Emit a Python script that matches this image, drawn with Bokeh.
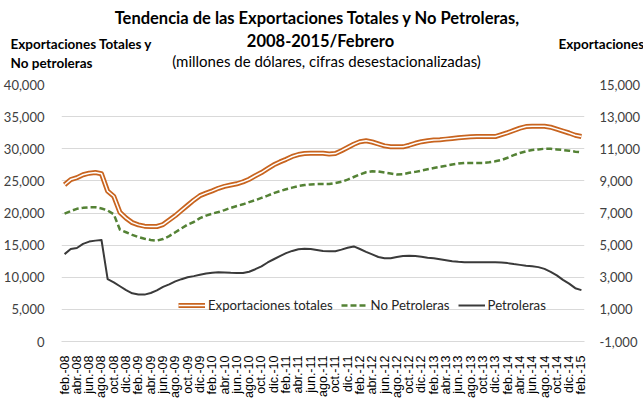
from math import pi
from bokeh.plotting import figure
from bokeh.layouts import column
from bokeh.core.properties import value
from bokeh.models import (Range1d, LinearAxis, FixedTicker, NumeralTickFormatter,
                          Legend, LegendItem)
from bokeh.embed import file_html
from bokeh.resources import INLINE

# ---------------- data (millones de dólares) ----------------
etiquetas_x = ["feb.-08", "abr.-08", "jun.-08", "ago.-08", "oct.-08", "dic.-08",
               "feb.-09", "abr.-09", "jun.-09", "ago.-09", "oct.-09", "dic.-09",
               "feb.-10", "abr.-10", "jun.-10", "ago.-10", "oct.-10", "dic.-10",
               "feb.-11", "abr.-11", "jun.-11", "ago.-11", "oct.-11", "dic.-11",
               "feb.-12", "abr.-12", "jun.-12", "ago.-12", "oct.-12", "dic.-12",
               "feb.-13", "abr.-13", "jun.-13", "ago.-13", "oct.-13", "dic.-13",
               "feb.-14", "abr.-14", "jun.-14", "ago.-14", "oct.-14", "dic.-14",
               "feb.-15"]

totales = [24400, 25200, 25500, 25950, 26200, 26300, 26100, 23400, 22600, 20100,
           19200, 18500, 18150, 17950, 17900, 17900, 18200, 18900, 19600, 20400,
           21200, 22000, 22700, 23100, 23450, 23850, 24150, 24350, 24550, 24850,
           25250, 25800, 26300, 26900, 27500, 27950, 28350, 28800, 29100, 29250,
           29300, 29300, 29300, 29200, 29250, 29700, 30200, 30700, 31100, 31250,
           31050, 30750, 30450, 30300, 30300, 30300, 30550, 30850, 31100, 31250,
           31350, 31400, 31500, 31600, 31700, 31800, 31850, 31900, 31900, 31900,
           31900, 32200, 32500, 32850, 33200, 33450, 33500, 33500, 33500, 33350,
           33050, 32750, 32450, 32100, 31900]

no_petroleras = [19900, 20300, 20650, 20800, 20900, 20900, 20700, 20400, 19800, 17400,
                 17000, 16600, 16250, 16000, 15800, 15700, 15950, 16400, 17000, 17600,
                 18200, 18600, 19200, 19600, 19900, 20150, 20450, 20800, 21100, 21350,
                 21700, 22000, 22350, 22700, 23100, 23400, 23700, 23950, 24200, 24350,
                 24450, 24500, 24500, 24500, 24650, 24850, 25200, 25600, 26000, 26350,
                 26500, 26450, 26300, 26150, 26000, 26050, 26250, 26400, 26600, 26800,
                 27000, 27200, 27350, 27550, 27700, 27800, 27800, 27800, 27800, 27900,
                 28050, 28250, 28600, 29000, 29350, 29600, 29800, 29900, 30000, 30000,
                 29900, 29800, 29700, 29550, 29450]

petroleras = [4440, 4760, 4820, 5080, 5220, 5280, 5320, 2880, 2680, 2440,
              2200, 2000, 1920, 1920, 2020, 2180, 2400, 2560, 2740, 2880,
              3000, 3070, 3160, 3230, 3280, 3310, 3300, 3280, 3270, 3260,
              3340, 3500, 3680, 3920, 4120, 4320, 4500, 4640, 4740, 4780,
              4760, 4700, 4640, 4620, 4620, 4720, 4840, 4920, 4760, 4580,
              4420, 4260, 4180, 4180, 4260, 4320, 4340, 4320, 4280, 4220,
              4180, 4120, 4060, 4000, 3960, 3940, 3940, 3940, 3940, 3940,
              3940, 3920, 3880, 3820, 3770, 3720, 3680, 3630, 3520, 3340,
              3120, 2840, 2600, 2320, 2200]

titulo = ["Tendencia de las Exportaciones Totales y No Petroleras,", "2008-2015/Febrero"]
subtitulo = "(millones de dólares, cifras desestacionalizadas)"
eje_izq = ["Exportaciones Totales y", "No petroleras"]
eje_der = "Exportaciones"

x = list(range(len(totales)))

# ---------------- header (titles) ----------------
HEAD_H = 76
head = figure(width=643, height=HEAD_H, output_backend="svg", toolbar_location=None,
              x_range=Range1d(0, 643), y_range=Range1d(HEAD_H, 0),
              x_axis_location=None, y_axis_location=None,
              min_border=0, min_border_left=0, min_border_right=0,
              min_border_top=0, min_border_bottom=0)
head.frame_align = False
head.grid.visible = False
head.outline_line_color = None
head.background_fill_color = "white"
head.border_fill_color = "white"

head.text(x=[317, 320], y=[17, 40], text=titulo, text_font=value("Lato"),
          text_font_size=value("16.5px"), text_font_style="bold",
          text_align="center", text_baseline="middle", text_color="#000000")
head.text(x=[326], y=[60], text=[subtitulo], text_font=value("Lato"),
          text_font_size=value("15px"), text_align="center",
          text_baseline="middle", text_color="#000000")
head.text(x=[10, 10], y=[43, 62], text=eje_izq, text_font=value("Lato"),
          text_font_size=value("13.5px"), text_font_style="bold",
          text_align="left", text_baseline="middle", text_color="#000000")
head.text(x=[558], y=[43], text=[eje_der], text_font=value("Lato"),
          text_font_size=value("13.5px"), text_font_style="bold",
          text_align="left", text_baseline="middle", text_color="#000000")

# ---------------- main chart ----------------
p = figure(width=643, height=400 - HEAD_H, output_backend="svg", toolbar_location=None,
           x_range=Range1d(-0.5, len(totales) - 0.5), y_range=Range1d(0, 40000),
           min_border_left=58, min_border_right=51, min_border_top=84 - HEAD_H,
           min_border_bottom=51)
p.frame_align = False
p.outline_line_color = None
p.background_fill_color = "white"
p.border_fill_color = "white"
p.extra_y_ranges = {"pet": Range1d(-1000, 15000)}

p.xgrid.visible = False
p.ygrid.ticker = FixedTicker(ticks=list(range(0, 40001, 5000)))
p.ygrid.grid_line_color = "#d9d9d9"
p.ygrid.grid_line_width = 1

TICK_FONT = "Lato"
ya = p.yaxis[0]
ya.ticker = FixedTicker(ticks=list(range(0, 40001, 5000)))
ya.formatter = NumeralTickFormatter(format="0,0")
ya.axis_line_color = None
ya.major_tick_line_color = None
ya.minor_tick_line_color = None
ya.major_label_standoff = 11
ya.major_label_text_font = TICK_FONT
ya.major_label_text_font_size = "13px"
ya.major_label_text_color = "#404040"

ra = LinearAxis(y_range_name="pet", ticker=FixedTicker(ticks=list(range(-1000, 15001, 2000))),
                formatter=NumeralTickFormatter(format="0,0"))
ra.axis_line_color = None
ra.major_tick_line_color = None
ra.minor_tick_line_color = None
ra.major_label_standoff = 9
ra.major_label_text_font = TICK_FONT
ra.major_label_text_font_size = "13px"
ra.major_label_text_color = "#404040"
p.add_layout(ra, "right")

xa = p.xaxis[0]
xa.ticker = FixedTicker(ticks=list(range(0, len(totales), 2)))
xa.major_label_overrides = {2 * i: lab for i, lab in enumerate(etiquetas_x)}
xa.major_label_orientation = pi / 2
xa.major_tick_line_color = None
xa.minor_tick_line_color = None
xa.axis_line_color = "#d9d9d9"
xa.major_label_standoff = 8
xa.major_label_text_font = "Liberation Sans"
xa.major_label_text_font_size = "12.5px"
xa.major_label_text_color = "#000000"

r_tot_o = p.line(x, totales, line_color="#C8641F", line_width=5, line_join="round")
r_tot_w = p.line(x, totales, line_color="white", line_width=1.5, line_join="round")
r_np = p.line(x, no_petroleras, line_color="#548235", line_width=2.5,
              line_dash="6 3", line_join="round")
r_pet = p.line(x, petroleras, line_color="#3a3a3a", line_width=2,
               line_join="round", y_range_name="pet")

legend = Legend(items=[LegendItem(label="Exportaciones totales", renderers=[r_tot_o, r_tot_w]),
                       LegendItem(label="No Petroleras", renderers=[r_np]),
                       LegendItem(label="Petroleras", renderers=[r_pet])],
                orientation="horizontal", location=(117, 28))
legend.glyph_width = 27
legend.glyph_height = 14
legend.label_standoff = 3
legend.spacing = 8
legend.padding = 0
legend.margin = 0
legend.border_line_alpha = 0
legend.background_fill_alpha = 0
legend.label_text_font = "Lato"
legend.label_text_font_size = "13.2px"
legend.label_text_color = "#262626"
p.add_layout(legend)

layout = column(head, p, spacing=0)
open("out.html", "w").write(file_html(layout, INLINE))
